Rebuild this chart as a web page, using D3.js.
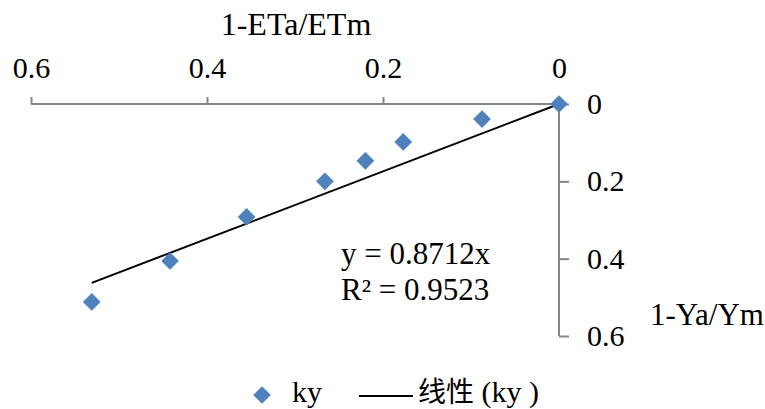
<!DOCTYPE html>
<html>
<head>
<meta charset="utf-8">
<script src="https://cdn.jsdelivr.net/npm/d3@7"></script>
<style>
  body { margin: 0; background: #fff; }
</style>
</head>
<body>
<svg></svg>
<script>
// values
const etRatio = [0, 0.0875, 0.177, 0.22, 0.266, 0.355, 0.442, 0.531];   // 1-ETa/ETm
const yRatio  = [0, 0.039, 0.098, 0.147, 0.20, 0.292, 0.406, 0.512];    // 1-Ya/Ym
const xTicks = [0.6, 0.4, 0.2, 0];
const yTicks = [0, 0.2, 0.4, 0.6];
const slope = 0.8712;
const r2 = 0.9523;

const serif = "'Liberation Serif', 'Times New Roman', serif";

function main() {
    const width = 765, height = 409;
    const svg = d3.select("svg").attr("width", width).attr("height", height)
        .style("font-family", serif);

    const x = d3.scaleLinear().domain([0.6, 0]).range([31, 559]);
    const y = d3.scaleLinear().domain([0, 0.6]).range([104, 336]);

    const axisColor = "#868686";
    const fmt = d => d === 0 ? "0" : d3.format(".1f")(d);

    // top axis
    const xAxis = svg.append("g")
        .attr("transform", `translate(0,${y(0)})`)
        .call(d3.axisTop(x).tickValues(xTicks).tickSize(7).tickPadding(19).tickFormat(fmt));
    xAxis.attr("font-family", null).attr("font-size", null);
    xAxis.select(".domain").attr("stroke", axisColor).attr("stroke-width", 2).attr("d", `M${x(0.6)},0H${x(0)}`);
    xAxis.selectAll(".tick line").attr("stroke", axisColor).attr("stroke-width", 2);
    xAxis.selectAll(".tick text").style("font-size", "30px").style("font-family", serif).attr("fill", "#000");

    // right axis
    const yAxis = svg.append("g")
        .attr("transform", `translate(${x(0)},0)`)
        .call(d3.axisRight(y).tickValues(yTicks).tickSize(10).tickPadding(18).tickFormat(fmt));
    yAxis.attr("font-family", null).attr("font-size", null);
    yAxis.select(".domain").attr("stroke", axisColor).attr("stroke-width", 2).attr("d", `M0,${y(0)}V${y(0.6)}`);
    yAxis.selectAll(".tick line").attr("stroke", axisColor).attr("stroke-width", 2);
    yAxis.selectAll(".tick text").style("font-size", "30px").style("font-family", serif).attr("fill", "#000");

    // axis titles
    svg.append("text").attr("x", 296).attr("y", 35).attr("text-anchor", "middle")
        .style("font-family", serif).style("font-size", "32px").text("1-ETa/ETm");
    svg.append("text").attr("x", 650).attr("y", 325)
        .style("font-family", serif).style("font-size", "31px").text("1-Ya/Ym");

    // trend line
    const xMax = d3.max(etRatio);
    svg.append("line")
        .attr("x1", x(0)).attr("y1", y(0))
        .attr("x2", x(xMax)).attr("y2", y(slope * xMax))
        .attr("stroke", "#000").attr("stroke-width", 2);

    // points
    const diamond = d3.symbol().type(d3.symbolDiamond2).size(200);
    svg.append("g").selectAll("path")
        .data(etRatio.map((v, i) => [v, yRatio[i]]))
        .join("path")
        .attr("d", diamond)
        .attr("transform", d => `translate(${x(d[0])},${y(d[1])})`)
        .attr("fill", "#4F81BD");

    // equation
    const eq = svg.append("text").attr("x", 341).attr("y", 264)
        .style("font-family", serif).style("font-size", "31px");
    eq.append("tspan").attr("x", 341).text(`y = ${slope}x`);
    eq.append("tspan").attr("x", 341).attr("dy", 36).text(`R² = ${r2}`);

    // legend
    const lg = svg.append("g");
    lg.append("path").attr("d", diamond)
        .attr("transform", "translate(262,395)").attr("fill", "#4F81BD");
    lg.append("text").attr("x", 292).attr("y", 402)
        .style("font-family", serif).style("font-size", "30px").text("ky");
    lg.append("line").attr("x1", 359).attr("x2", 413).attr("y1", 396).attr("y2", 396)
        .attr("stroke", "#000").attr("stroke-width", 2);
    const lt = lg.append("text").attr("x", 418).attr("y", 402)
        .style("font-family", serif).style("font-size", "30px");
    lt.append("tspan").style("font-family", "'Noto Sans CJK SC'").style("font-size", "28px").text("线性");
    lt.append("tspan").text(" (ky )");
}
main();
</script>
</body>
</html>
